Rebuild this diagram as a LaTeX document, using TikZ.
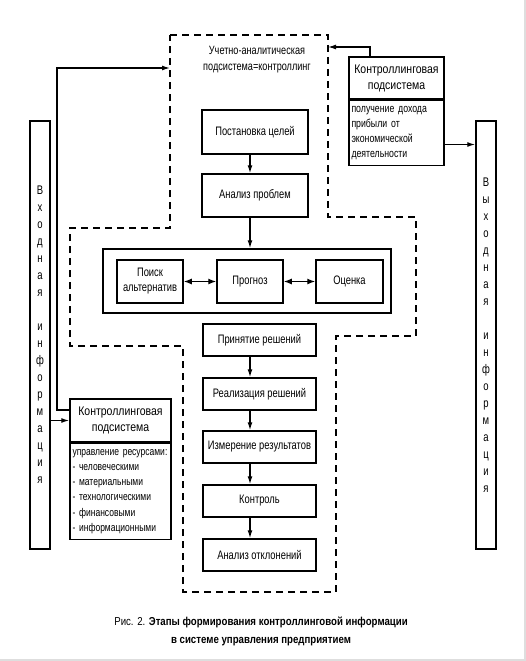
\documentclass[tikz,border=0pt]{standalone}
\usepackage{fontspec}
\setmainfont{Liberation Sans}[FakeStretch=0.84]
\newfontfamily\nar{Liberation Sans}[FakeStretch=0.76]
\usetikzlibrary{arrows.meta,calc}
\begin{document}
\begin{tikzpicture}[x=1pt,y=-1pt,
  box/.style={draw, line width=1.5pt, inner sep=0pt, align=center, font=\nar\fontsize{12.3}{13}\selectfont},
  ttl/.style={draw, line width=1.5pt, inner sep=0pt, align=center, font=\fontsize{12.5}{16}\selectfont},
  listbox/.style={draw, line width=1.5pt, inner sep=2.5pt, align=left, anchor=north west},
  letters/.style={draw, line width=1.5pt, inner sep=0pt, align=center, font=\nar\fontsize{12.5}{17}\selectfont},
  arr/.style={line width=1.3pt, -{Latex[length=8pt,width=5pt]}},
  darr/.style={line width=1.3pt, {Latex[length=8pt,width=6pt]}-{Latex[length=8pt,width=6pt]}},
  dline/.style={line width=1.5pt, dash pattern=on 7pt off 5pt},
  frame/.style={draw=black!13, line width=2pt}]
\useasboundingbox (0,0) rectangle (526,661);
\fill[white] (0,0) rectangle (526,661);
\draw[frame] (525,0) -- (525,660) -- (0,660);

% dashed subsystem outline
\draw[dline] (170,35) -- (328,35) -- (328,217) -- (416,217) -- (416,336) -- (336,336) -- (336,592) -- (183,592) -- (183,346) -- (70,346) -- (70,228) -- (170,228) -- cycle;
\coordinate (dashL) at (170,68);
\coordinate (dashR) at (328,47);
\coordinate (rx) at (370,0);

\node[font=\nar\fontsize{12}{16}\selectfont, align=center] (title) at (257,60) {Учетно-аналитическая\\подсистема=контроллинг};

% main chain
\node[box, minimum width=106pt, minimum height=44pt] (post) at (255,132) {Постановка целей};
\node[box, minimum width=106pt, minimum height=43pt] (anal) at (255,195.5) {Анализ проблем};
\node[draw, line width=1.5pt, minimum width=288pt, minimum height=64pt] (big) at (247,281) {};
\node[box, minimum width=66pt, minimum height=43pt, font=\nar\fontsize{12.3}{15}\selectfont] (poisk) at (150,281.5) {Поиск\\альтернатив};
\node[box, minimum width=66pt, minimum height=43pt] (prognoz) at (250,281.5) {Прогноз};
\node[box, minimum width=67pt, minimum height=43pt] (ocenka) at (349.5,281.5) {Оценка};
\node[box, minimum width=113pt, minimum height=32pt] (prin) at (259.5,340) {Принятие решений};
\node[box, minimum width=113pt, minimum height=32pt] (real) at (259.5,394) {Реализация решений};
\node[box, minimum width=113pt, minimum height=32pt] (izm) at (259.5,447) {Измерение результатов};
\node[box, minimum width=113pt, minimum height=32pt] (kontr) at (259.5,501) {Контроль};
\node[box, minimum width=113pt, minimum height=32pt] (otkl) at (259.5,555) {Анализ отклонений};

% input / output
\node[letters, minimum width=20pt, minimum height=428pt] (inbox) at (40,335)
  {В\\х\\о\\д\\н\\а\\я\\~\\и\\н\\ф\\о\\р\\м\\а\\ц\\и\\я};
\node[letters, minimum width=20pt, minimum height=428pt] (outbox) at (486,335)
  {В\\ы\\х\\о\\д\\н\\а\\я\\~\\и\\н\\ф\\о\\р\\м\\а\\ц\\и\\я};

% right controlling subsystem
\node[ttl, minimum width=95pt, minimum height=42pt] (rctitle) at (396.5,78) {Контроллинговая\\подсистема};
\node[listbox, text width=90pt, minimum height=65pt, font=\nar\fontsize{11.5}{15}\selectfont] (rcbody) at (rctitle.south west)
  {получение дохода\\прибыли от\\экономической\\деятельности};

% left controlling subsystem
\node[ttl, minimum width=101pt, minimum height=43pt] (lctitle) at (120.5,420.5) {Контроллинговая\\подсистема};
\node[listbox, text width=96pt, minimum height=96pt, font=\nar\fontsize{11.2}{15.2}\selectfont] (lcbody) at (lctitle.south west)
  {управление ресурсами:\\- человеческими\\- материальными\\- технологическими\\- финансовыми\\- информационными};

% connectors
\draw[arr] (post.south -| prognoz.center) -- (anal.north -| prognoz.center);
\draw[arr] (anal.south -| prognoz.center) -- (big.north -| prognoz.center);
\draw[darr] (poisk.east) -- (prognoz.west);
\draw[darr] (prognoz.east) -- (ocenka.west);
\draw[arr] (prin.south -| prognoz.center) -- (real.north -| prognoz.center);
\draw[arr] (real.south -| prognoz.center) -- (izm.north -| prognoz.center);
\draw[arr] (izm.south -| prognoz.center) -- (kontr.north -| prognoz.center);
\draw[arr] (kontr.south -| prognoz.center) -- (otkl.north -| prognoz.center);

\draw[arr] (inbox.east |- lctitle.west) -- (lctitle.west);
\draw[arr] ([yshift=10.5pt]lctitle.west) -| (57,200) |- (dashL);
\draw[arr] (rctitle.north -| rx) |- (dashR);
\draw[arr] ([yshift=-11.5pt]rcbody.east) -- ([yshift=-11.5pt]rcbody.east -| outbox.west);

% caption
\node[align=center, font=\fontsize{11.5}{18}\selectfont] (caption) at (261,631)
  {Рис. 2. \textbf{Этапы формирования контроллинговой информации}\\\textbf{в системе управления предприятием}};
\end{tikzpicture}
\end{document}
